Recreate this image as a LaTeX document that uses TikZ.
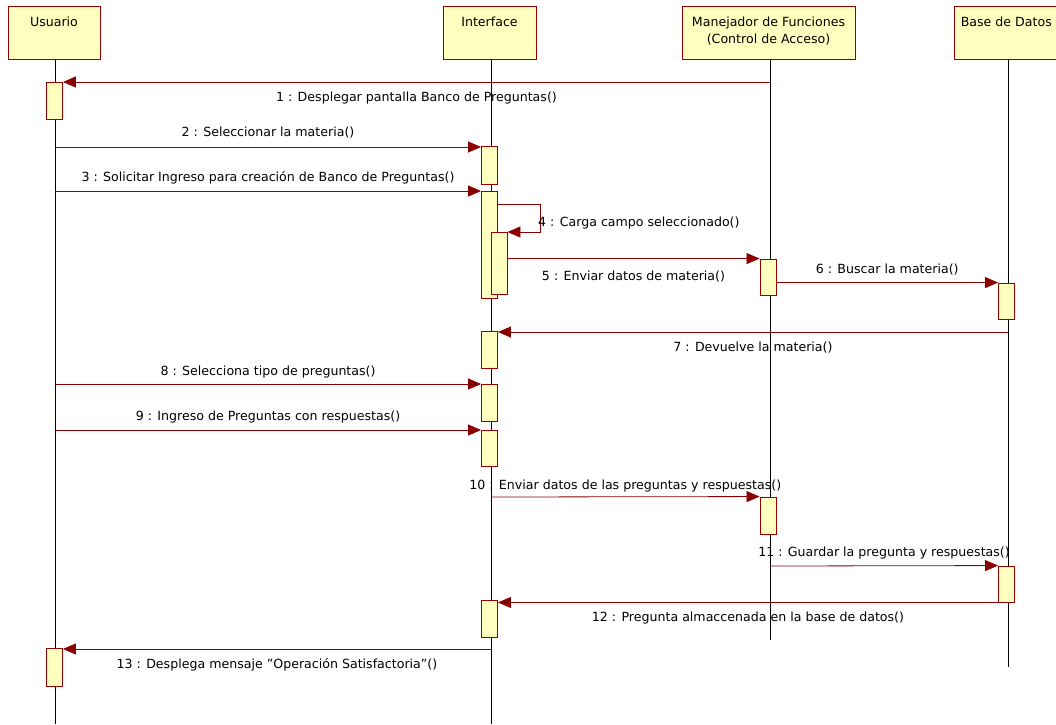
\documentclass[tikz,border=0pt]{standalone}
\usepackage{fontspec}
\setmainfont{DejaVu Sans}
\usetikzlibrary{arrows.meta}
\definecolor{boxfill}{HTML}{FFFFC0}
\definecolor{boxline}{HTML}{990000}
\definecolor{msgline}{HTML}{8B0000}
\tikzset{
  head/.style={draw=boxline, fill=boxfill, line width=0.9pt, minimum height=53pt, text depth=0pt, align=center, inner sep=0pt},
  act/.style={draw=boxline, fill=boxfill, line width=0.9pt, minimum width=16pt, inner sep=0pt},
  life/.style={draw=black, line width=0.8pt},
  msg/.style={draw=msgline, line width=0.8pt, -{Triangle[length=13pt,width=11pt]}},
  lbl/.style={font=\fontsize{12.6}{17}\selectfont, inner sep=0pt, text=black},
}
\begin{document}
\begin{tikzpicture}[x=1pt,y=-1pt]
\clip (0,0) rectangle (1056,724);
\fill[white] (0,0) rectangle (1056,724);
% heads
\node[head, minimum width=92pt] (hu) at (54,32.5) {};
\node[lbl, anchor=north] at (hu.north) [yshift=-11pt] {Usuario};
\node[head, minimum width=93pt] (hi) at (489.5,32.5) {};
\node[lbl, anchor=north] at (hi.north) [yshift=-11pt] {Interface};
\node[head, minimum width=173pt] (hm) at (768.5,32.5) {};
\node[lbl, anchor=north, align=center] at (hm.north) [yshift=-11pt] {Manejador de Funciones\\(Control de Acceso)};
\node[head, minimum width=108pt] (hb) at (1008,32.5) {};
\node[lbl, anchor=north west] at (hb.north west) [xshift=7pt, yshift=-11pt] {Base de Datos};
% lifelines
\coordinate (eu) at (55,724);
\coordinate (ei) at (491,724);
\coordinate (em) at (770,640);
\coordinate (eb) at (1008,667);
\draw[life] (hu.south -| eu) -- (eu);
\draw[life] (hi.south -| ei) -- (ei);
\draw[life] (hm.south -| em) -- (em);
\draw[life] (hb.south -| eb) -- (eb);
% activations
\node[act, minimum height=37pt] (u1) at (54.5,100.5) {};
\node[act, minimum height=38pt] (u2) at (54.5,667) {};
\node[act, minimum height=38pt] (i1) at (489.5,165) {};
\node[act, minimum height=107pt] (i2) at (489.5,244.5) {};
\node[act, minimum height=62pt] (i3) at (499,263) {};
\node[act, minimum height=37pt] (i4) at (489.5,349.5) {};
\node[act, minimum height=37pt] (i5) at (489.5,402.5) {};
\node[act, minimum height=36pt] (i6) at (489.5,448) {};
\node[act, minimum height=37pt] (i7) at (489.5,618.5) {};
\node[act, minimum height=36pt] (m1) at (768,277) {};
\node[act, minimum height=37pt] (m2) at (768,515.5) {};
\node[act, minimum height=36pt] (b1) at (1006.5,301) {};
\node[act, minimum height=36pt] (b2) at (1006.5,584) {};
% message anchor coordinates on lifelines
\coordinate (p1) at (770,82);
\coordinate (p2) at (55,147);
\coordinate (p3) at (55,191);
\coordinate (p7) at (1008,332);
\coordinate (p8) at (55,384);
\coordinate (p9) at (55,430);
\coordinate (p10) at (491,497);
\coordinate (p11) at (770,566);
\coordinate (p13) at (491,649);
\coordinate (s4a) at (540,204);
\coordinate (s4b) at (540,232);
% messages
\draw[msg] (p1) -- (p1 -| u1.east) node[lbl, midway, yshift=-16pt] {1 : Desplegar pantalla Banco de Preguntas()};
\draw[msg] (p2) -- (p2 -| i1.west) node[lbl, midway, yshift=14pt] {2 : Seleccionar la materia()};
\draw[msg] (p3) -- (p3 -| i2.west) node[lbl, midway, yshift=13pt] {3 : Solicitar Ingreso para creación de Banco de Preguntas()};
\draw[msg] (s4a -| i2.east) -- (s4a) -- (s4b) -- (s4b -| i3.east);
\node[lbl, anchor=west] at (538,223) {4 : Carga campo seleccionado()};
\draw[msg] (i3.east |- m1.north) -- (m1.north west) node[lbl, midway, yshift=-18pt] {5 : Enviar datos de materia()};
\draw[msg] (m1.east |- b1.north) -- (b1.north west) node[lbl, midway, yshift=13pt] {6 : Buscar la materia()};
\draw[msg] (p7) -- (p7 -| i4.east) node[lbl, midway, yshift=-16pt] {7 : Devuelve la materia()};
\draw[msg] (p8) -- (p8 -| i5.west) node[lbl, midway, yshift=12pt] {8 : Selecciona tipo de preguntas()};
\draw[msg] (p9) -- (p9 -| i6.west) node[lbl, midway, yshift=13pt] {9 : Ingreso de Preguntas con respuestas()};
\draw[msg] (p10) -- (m2.north west) node[lbl, midway, yshift=11pt] {10 : Enviar datos de las preguntas y respuestas()};
\draw[msg] (p11) -- (b2.north west) node[lbl, midway, yshift=13pt] {11 : Guardar la pregunta y respuestas()};
\draw[msg] (b2.south west) -- (b2.south west -| i7.east) node[lbl, midway, yshift=-16pt] {12 : Pregunta almaccenada en la base de datos()};
\draw[msg] (p13) -- (p13 -| u2.east) node[lbl, midway, yshift=-16pt] {13 : Desplega mensaje \symbol{34}Operación Satisfactoria\symbol{34}()};
\end{tikzpicture}
\end{document}
